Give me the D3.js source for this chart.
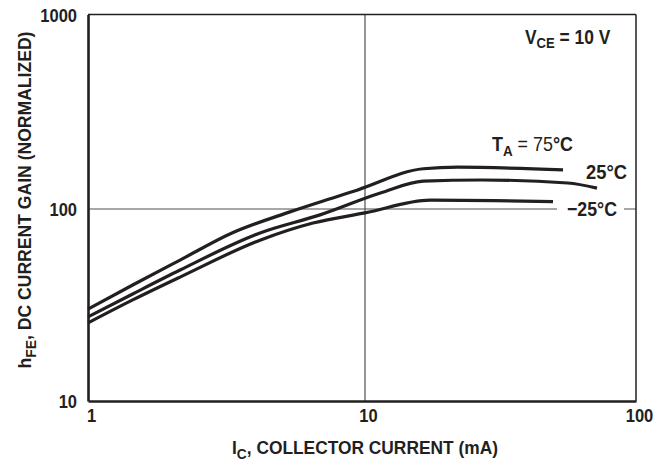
<!DOCTYPE html>
<html><head><meta charset="utf-8">
<script src="https://cdn.jsdelivr.net/npm/d3@7"></script>
<style>
body{margin:0;background:#fff;}
text{font-family:"Liberation Sans",Arial,sans-serif;font-weight:bold;fill:#231f20;}
</style></head>
<body><svg id="c" width="670" height="465"></svg>
<script>
const xTicks=[1,10,100];
const yTicks=[10,100,1000];
const s75=[[1,30.1],[1.45,40.2],[2.15,54.2],[3.31,75],[5.36,96.6],[7.8,115],[9.36,125],[16.4,161],[22,164],[53.8,159]];
const s25=[[1,27.4],[1.45,36.1],[2.15,48.1],[4.18,75],[6.88,93.2],[11.4,120.8],[16.4,139],[27,141],[56,136],[71.8,128]];
const sm25=[[1,25.5],[1.45,33.6],[2.15,44.2],[4.18,68.8],[6.49,84.5],[10,95.4],[17.4,111],[30,110.5],[49.4,109]];
const series=[s75,s25,sm25];

const svg=d3.select("#c");
const x=d3.scaleLog().domain([1,10,100]).range([88,365,636]);
const y=d3.scaleLog().domain([10,100,1000]).range([401,209,14.5]);
const ink="#231f20";

function fit(sel,w){
  const bb=sel.node().getBBox();
  const k=w/bb.width;
  const ax=+sel.attr("x")||0;
  sel.attr("transform",`translate(${ax},0) scale(${k},1) translate(${-ax},0)`);
}
function squeeze(sel,k){
  const ax=+sel.attr("x")||0;
  sel.attr("transform",`translate(${ax},0) scale(${k},1) translate(${-ax},0)`);
}

// grid
svg.append("line").attr("x1",x(10)).attr("x2",x(10)).attr("y1",y(1000)).attr("y2",y(10)).attr("stroke","#505050").attr("stroke-width",1.2);
svg.append("line").attr("x1",x(1)).attr("x2",x(100)).attr("y1",y(100)).attr("y2",y(100)).attr("stroke","#505050").attr("stroke-width",1.2);

// frame top/right
svg.append("line").attr("x1",x(1)).attr("x2",x(100)).attr("y1",y(1000)).attr("y2",y(1000)).attr("stroke",ink).attr("stroke-width",1.5);
svg.append("line").attr("x1",x(100)).attr("x2",x(100)).attr("y1",y(1000)).attr("y2",y(10)).attr("stroke",ink).attr("stroke-width",1.5);

// axes
const xa=svg.append("g").attr("transform",`translate(3,${y(10)})`)
  .call(d3.axisBottom(x).tickValues(xTicks).tickFormat(d3.format("d")).tickSize(0).tickPadding(8));
const ya=svg.append("g").attr("transform",`translate(${x(1)},0)`)
  .call(d3.axisLeft(y).tickValues(yTicks).tickFormat(d3.format("d")).tickSize(0).tickPadding(11));
xa.select(".domain").attr("transform","translate(-3,0)");
[xa,ya].forEach(g=>{g.select(".domain").attr("stroke",ink).attr("stroke-width",2.6);
  g.selectAll("text").style("font-size","19px").attr("fill",ink).each(function(){squeeze(d3.select(this),0.87);});});
xa.selectAll("text").attr("dy","0.71em");
ya.selectAll("text").attr("dy","0.36em");

// curves
const line=d3.line().x(d=>x(d[0])).y(d=>y(d[1])).curve(d3.curveMonotoneX);
svg.selectAll("path.s").data(series).join("path").attr("class","s")
  .attr("d",line).attr("fill","none").attr("stroke",ink).attr("stroke-width",3.2).attr("stroke-linecap","butt");

// labels
svg.append("rect").attr("x",557).attr("y",y(100)-10).attr("width",67).attr("height",20).attr("fill","#fff");
const t1=svg.append("text").attr("x",525).attr("y",44).style("font-size","20px");
t1.append("tspan").text("V");
t1.append("tspan").text("CE").attr("dy",4).style("font-size","15px");
t1.append("tspan").text(" = 10 V").attr("dy",-4);
fit(t1,86);

const t2=svg.append("text").attr("x",492).attr("y",151).style("font-size","20px");
t2.append("tspan").text("T");
t2.append("tspan").text("A").attr("dy",5).style("font-size","15px");
t2.append("tspan").text(" = 75").attr("dy",-5).style("font-weight","normal");
t2.append("tspan").text("°C");
fit(t2,81);

const t3=svg.append("text").attr("x",586).attr("y",179).style("font-size","20px").text("25°C");
fit(t3,41);
const t4=svg.append("text").attr("x",567).attr("y",216).style("font-size","20px").text("\u221225°C");
fit(t4,50);

// axis titles
const xt=svg.append("text").attr("x",365).attr("y",454).attr("text-anchor","middle").style("font-size","19px");
xt.append("tspan").text("I");
xt.append("tspan").text("C").attr("dy",5).style("font-size","15px");
xt.append("tspan").text(", COLLECTOR CURRENT (mA)").attr("dy",-5);
fit(xt,266);

const yg=svg.append("g").attr("transform","translate(31,200) rotate(-90)");
const yt=yg.append("text").attr("x",0).attr("y",0).attr("text-anchor","middle").style("font-size","19px");
yt.append("tspan").text("h");
yt.append("tspan").text("FE").attr("dy",5).style("font-size","15px");
yt.append("tspan").text(", DC CURRENT GAIN (NORMALIZED)").attr("dy",-5);
fit(yt,337);
</script></body></html>
